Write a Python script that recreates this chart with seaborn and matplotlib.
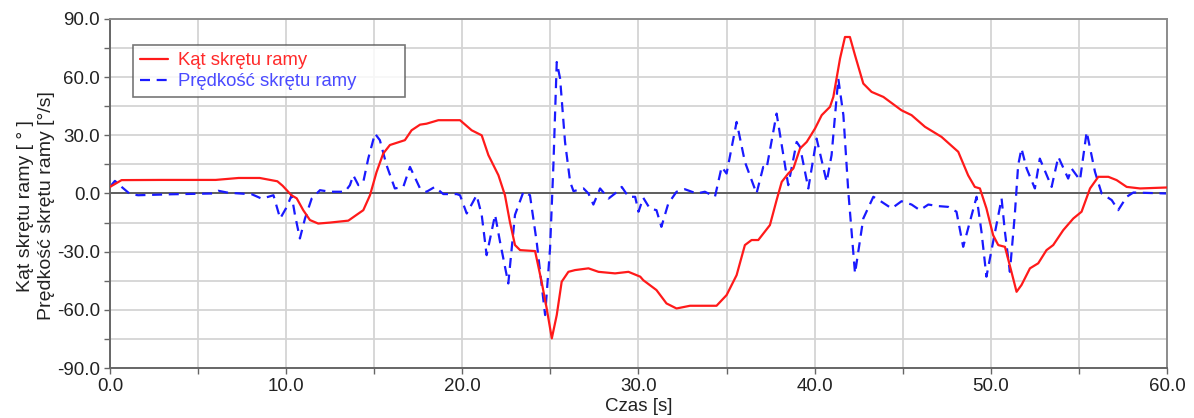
import matplotlib
matplotlib.use("Agg")
import matplotlib.pyplot as plt
import seaborn as sns
import pandas as pd
from matplotlib.ticker import MultipleLocator, FormatStrFormatter

# ---- data ----
angle_t = [0.0, 0.66, 3.0, 6.0, 7.3, 8.5, 9.5, 9.8, 10.3, 10.6, 10.97, 11.35, 11.82, 12.49,
           13.53, 14.0, 14.38, 14.76, 15.13, 15.51, 15.89, 16.74, 17.12, 17.6, 17.97, 18.64,
           19.87, 20.53, 21.1, 21.48, 22.05, 22.42, 22.7, 22.99, 23.28, 24.13, 24.5, 24.79,
           25.08, 25.36, 25.64, 26.02, 26.4, 27.16, 27.73, 28.67, 29.43, 30.1, 30.27, 31.02,
           31.59, 32.16, 32.92, 34.43, 35.0, 35.57, 36.04, 36.42, 36.8, 37.46, 37.84, 38.13,
           38.5, 38.79, 39.17, 39.55, 40.02, 40.4, 40.87, 41.06, 41.44, 41.72, 42.0, 42.29,
           42.76, 43.23, 43.9, 44.93, 45.5, 46.26, 47.2, 48.15, 48.71, 49.09, 49.38, 49.75,
           50.13, 50.42, 50.8, 51.17, 51.46, 51.74, 52.22, 52.69, 53.16, 53.54, 54.11, 54.68,
           55.15, 55.63, 56.1, 56.67, 57.14, 57.71, 58.47, 60.0]
angle_v = [3.4, 6.9, 7.0, 7.0, 8.0, 8.0, 6.3, 4.0, -0.9, -2.5, -8.6, -13.7, -15.5, -15.0,
           -14.0, -11.0, -8.6, -0.9, 11.0, 20.6, 25.0, 27.5, 32.6, 35.5, 36.0, 37.8,
           37.8, 32.6, 30.0, 19.8, 9.4, -0.9, -14.6, -26.6, -29.2, -29.7, -45.5, -59.3,
           -74.7, -62.7, -45.5, -40.4, -39.5, -38.6, -40.4, -41.2, -40.4, -42.9, -44.7, -49.8,
           -56.7, -59.3, -57.9, -57.9, -52.4, -42.1, -26.6, -24.0, -24.0, -16.3, -3.4, 6.0,
           10.3, 12.9, 23.2, 26.6, 33.5, 40.4, 44.7, 49.8, 69.6, 80.7, 80.7, 71.3,
           56.7, 52.4, 49.8, 42.9, 40.4, 34.4, 29.2, 21.5, 9.4, 3.4, 2.6, -7.7,
           -21.5, -26.6, -27.5, -40.4, -50.7, -47.2, -38.6, -36.0, -29.2, -26.6, -18.9, -12.9,
           -9.4, 2.6, 8.6, 8.6, 6.9, 3.4, 2.6, 3.1]

rate_t = [0.0, 0.28, 0.66, 1.14, 1.6, 3.5, 5.8, 6.15, 6.7, 8.05, 8.6, 8.99, 9.28, 9.66,
          10.04, 10.31, 10.5, 10.78, 11.07, 11.45, 11.92, 12.49, 13.34, 13.62, 13.81, 14.1,
          14.38, 14.66, 15.04, 15.32, 15.7, 16.17, 16.65, 17.03, 17.6, 17.97, 18.44, 18.92,
          19.68, 19.87, 20.25, 20.81, 21.1, 21.38, 21.86, 22.14, 22.61, 22.99, 23.47, 23.84,
          24.22, 24.7, 24.98, 25.17, 25.36, 25.55, 25.83, 26.12, 26.31, 26.88, 27.16, 27.44,
          27.82, 28.3, 28.67, 29.05, 29.43, 29.81, 30.0, 30.27, 30.64, 31.02, 31.3, 31.69,
          32.16, 32.63, 33.3, 33.77, 34.34, 34.72, 35.0, 35.57, 36.04, 36.7, 37.08, 37.27,
          37.84, 38.22, 38.5, 38.98, 39.17, 39.64, 40.11, 40.68, 40.96, 41.34, 41.63, 41.91,
          42.29, 42.76, 43.33, 43.8, 44.37, 44.93, 45.5, 45.97, 46.45, 47.01, 47.58, 48.05,
          48.43, 48.81, 49.19, 49.47, 49.75, 50.13, 50.61, 50.8, 51.08, 51.36, 51.55, 51.74,
          52.03, 52.5, 52.78, 53.45, 53.83, 54.39, 54.58, 55.06, 55.44, 55.91, 56.29, 56.86,
          57.23, 57.71, 58.09, 60.0]
rate_v = [3.4, 6.5, 3.4, -0.3, -0.9, -0.4, 0.0, 1.4, 0.4, -0.4, -2.6, -1.7, -0.9, -12.9,
          -6.9, -0.9, -11.0, -23.2, -12.9, -2.6, 1.7, 0.9, 0.9, 4.3, 9.4, 4.3,
          6.0, 18.0, 30.9, 27.5, 14.6, 2.6, 3.4, 13.7, 2.6, 0.9, 3.4, -0.3,
          -0.3, -0.9, -10.3, -0.9, -11.0, -31.8, -11.0, -24.9, -46.4, -11.0, 0.9, -0.9,
          -24.9, -62.7, -28.3, 14.6, 67.8, 59.3, 26.6, 6.0, 1.2, 2.6, 0.0, -5.7,
          2.6, -2.6, 0.0, 3.4, -1.7, -1.7, -9.4, -2.2, -7.7, -8.6, -17.2, -5.2,
          0.9, 2.2, 0.0, 0.9, -1.7, 13.7, 10.3, 36.9, 16.3, 0.0, 13.7, 12.9,
          41.2, 19.8, 4.3, 26.6, 24.0, 2.6, 28.3, 6.0, 19.8, 59.3, 40.4, 0.9,
          -41.2, -12.9, -1.7, -4.3, -7.7, -4.0, -5.7, -8.6, -5.7, -6.5, -6.9, -9.4,
          -27.5, -14.6, -1.7, -19.8, -42.9, -24.9, -2.6, -19.8, -40.4, -11.0, 14.6, 23.2,
          12.9, 2.6, 18.0, 3.4, 18.9, 7.7, 12.9, 6.9, 31.8, 11.2, 0.0, -3.4,
          -8.6, -1.7, 0.5, 0.0]

angle_label = "Kąt skrętu ramy"
rate_label = "Prędkość skrętu ramy"
x_label = "Czas [s]"
y_label = "Kąt skrętu ramy [ ° ]\nPrędkość skrętu ramy [°/s]"

red = "#ff1a1a"
blue = "#1a1aff"

sns.set_style("white")
plt.rcParams["font.family"] = ["Liberation Sans", "DejaVu Sans"]

fig = plt.figure(figsize=(11.94, 4.18), dpi=100)
ax = fig.add_axes([0.0921, 0.1196, 0.8853, 0.835])

df_a = pd.DataFrame({"t": angle_t, "v": angle_v})
df_r = pd.DataFrame({"t": rate_t, "v": rate_v})

ax.axhline(0, color="#555555", lw=1.3, zorder=1.5)
sns.lineplot(data=df_a, x="t", y="v", ax=ax, color=red, lw=1.6, label=angle_label,
             estimator=None, sort=False, zorder=3)
sns.lineplot(data=df_r, x="t", y="v", ax=ax, color=blue, lw=1.6, label=rate_label,
             estimator=None, sort=False, zorder=2.5)
ax.lines[-1].set_dashes([4.5, 3])

ax.set_xlim(0, 60)
ax.set_ylim(-90, 90)
ax.xaxis.set_major_locator(MultipleLocator(10))
ax.xaxis.set_minor_locator(MultipleLocator(5))
ax.yaxis.set_major_locator(MultipleLocator(30))
ax.yaxis.set_minor_locator(MultipleLocator(15))
ax.xaxis.set_major_formatter(FormatStrFormatter("%.1f"))
ax.yaxis.set_major_formatter(FormatStrFormatter("%.1f"))
ax.grid(True, which="both", color="#d4d4d4", lw=1.3, zorder=0)
ax.set_axisbelow(True)

ax.tick_params(which="both", direction="out", length=4, width=1, color="#666666",
               labelsize=13.5, labelcolor="#222222", bottom=True, left=True, pad=3)

for side in ("left", "bottom"):
    ax.spines[side].set_color("#666666")
    ax.spines[side].set_linewidth(1.4)
for side in ("top", "right"):
    ax.spines[side].set_color("#8c8c8c")
    ax.spines[side].set_linewidth(1.4)

ax.set_xlabel(x_label, fontsize=13.5, color="#222222", labelpad=2)
ax.set_ylabel(y_label, fontsize=14, color="#222222", linespacing=1.3)
ax.yaxis.set_label_coords(-0.052, 0.464)

leg = ax.legend(loc="upper left", bbox_to_anchor=(0.0218, 0.9255, 0.2573, 0.0),
                mode="expand", fontsize=13.3,
                frameon=True, fancybox=False, handlelength=1.5, handletextpad=0.55,
                labelspacing=0.2, borderpad=0.4, borderaxespad=0)
leg.get_frame().set_edgecolor("#555555")
leg.get_frame().set_linewidth(1.2)
for txt, c in zip(leg.get_texts(), ["#ff2a2a", "#4a4aff"]):
    txt.set_color(c)

fig.savefig("out.png", dpi=100)
